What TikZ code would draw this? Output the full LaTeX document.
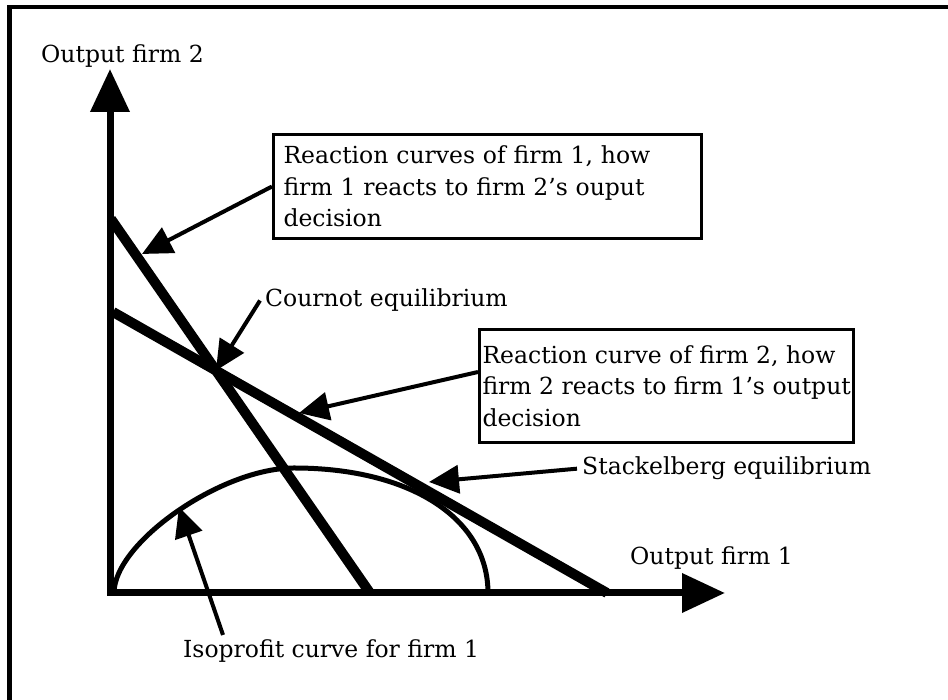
\documentclass[tikz,border=0pt]{standalone}
\usepackage{fontspec}
\setmainfont{DejaVu Serif}
\usetikzlibrary{arrows.meta,intersections}

\begin{document}
\begin{tikzpicture}[x=1pt,y=1pt,>={Triangle[length=30pt,width=28pt]},
  axis/.style={line width=7pt,line join=miter},
  reaction/.style={line width=10pt},
  pointer/.style={->,line width=4pt},
  infobox/.style={draw,line width=3pt,align=left,font=\fontsize{23.5}{31.5}\selectfont},
  label node/.style={font=\fontsize{23.5}{31.5}\selectfont,inner sep=5pt}]

\useasboundingbox (0,0) rectangle (948,700);
% frame
\draw[line width=4.5pt] (9.5,0) -- (9.5,693) -- (948,693);

% axes
\coordinate (O) at (110,107);
\coordinate (ytip) at (110,631);
\coordinate (xtip) at (725,107);
\draw[axis,{Triangle[length=43pt,width=38pt]}-{Triangle[length=43pt,width=38pt]}] (ytip) -- (O) -- (xtip);
\node[label node,inner sep=0pt,anchor=base west] (ylab) at (41,637) {Output firm 2};
\node[label node,inner sep=0pt,anchor=base west] (xlab) at (630,135) {Output firm 1};

% reaction curves
\draw[reaction,name path=r1] (111,481) -- (370,107);
\draw[reaction,name path=r2] (113,388) -- (607,107);
\path[name intersections={of=r1 and r2,by=cournotpt}];

% isoprofit curve
\draw[line width=5pt] (114,107) .. controls (114,157) and (221,232) .. (294,232)
  .. controls (410,232) and (488,182) .. (488,107);

% boxes
\node[infobox,anchor=north west,text width=408pt,inner xsep=10pt,minimum width=428pt,minimum height=104pt] (box1) at (272,567)
  {Reaction curves of firm 1, how\\firm 1 reacts to firm 2's ouput\\decision};
\node[infobox,anchor=north west,inner xsep=3pt,minimum height=113pt] (box2) at (478,372)
  {Reaction curve of firm 2, how\\firm 2 reacts to firm 1's output\\decision};

% labels
\node[label node,anchor=base west] (cournot) at (260,393) {Cournot equilibrium};
\node[label node,anchor=base west] (stack) at (577,225) {Stackelberg equilibrium};
\node[label node,anchor=base west] (iso) at (178,42) {Isoprofit curve for firm 1};

% arrow tips
\coordinate (tip1) at (142,446);
\coordinate (tip2) at (299,287);
\coordinate (tip3) at (429,218);
\coordinate (tip4) at (179,193);

\path[pointer]
  (box1.west) edge (tip1)
  (cournot.west) edge (cournotpt)
  ([yshift=14pt]box2.west) edge (tip2)
  (stack.west) edge (tip3)
  ([xshift=45pt]iso.north west) edge (tip4);
\end{tikzpicture}
\end{document}
